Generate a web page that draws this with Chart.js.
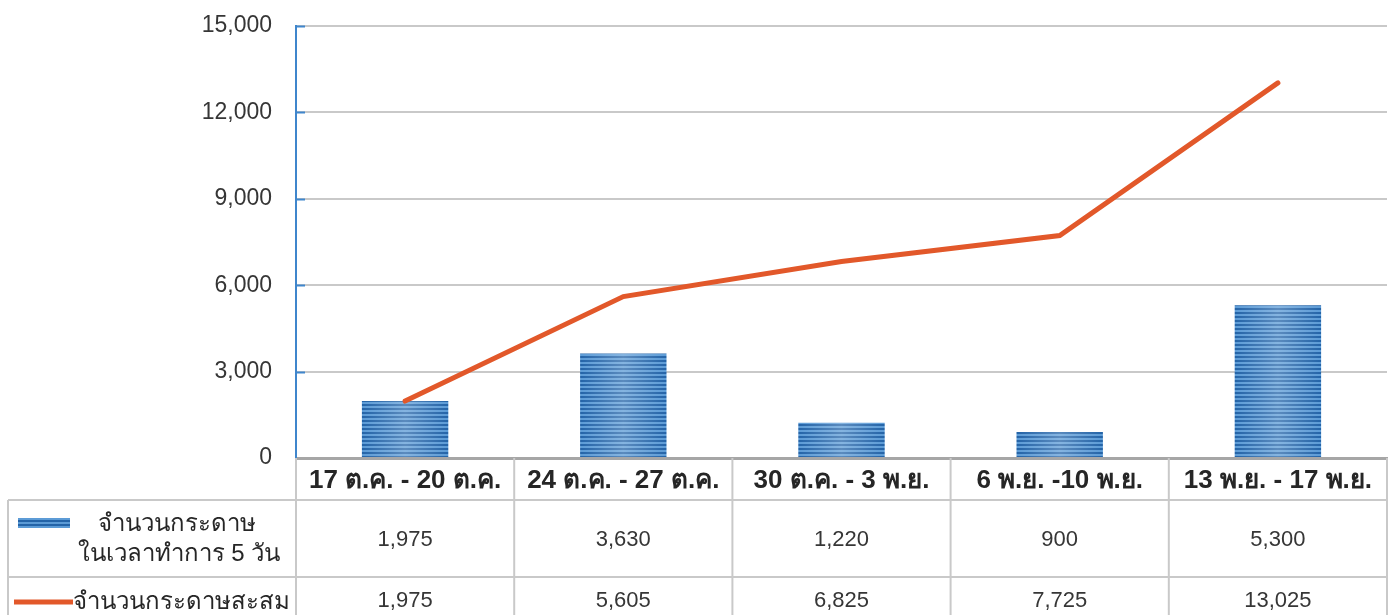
<!DOCTYPE html>
<html>
<head>
<meta charset="utf-8">
<script src="https://cdn.jsdelivr.net/npm/chart.js@4/dist/chart.umd.min.js"></script>
<style>
  html, body { margin: 0; padding: 0; background: #ffffff; }
  #wrap { width: 1393px; height: 615px; }
</style>
</head>
<body>
<div id="wrap"><canvas id="chart" width="1393" height="615"></canvas></div>
<script>
// Weekly paper counts and the running total
const categories = ['17 ต.ค. - 20 ต.ค.', '24 ต.ค. - 27 ต.ค.', '30 ต.ค. - 3 พ.ย.', '6 พ.ย. -10 พ.ย.', '13 พ.ย. - 17 พ.ย.'];
const weeklyPaper = [1975, 3630, 1220, 900, 5300];
const cumulativePaper = [1975, 5605, 6825, 7725, 13025];
const yTickValues = [0, 3000, 6000, 9000, 12000, 15000];
const weeklyLabel = ['จำนวนกระดาษ', 'ในเวลาทำการ 5 วัน'];
const cumulativeLabel = 'จำนวนกระดาษสะสม';

const FONT = "'Liberation Sans', 'Noto Sans', sans-serif";
const BLUE_DARK = '#2464a8';
const BLUE_LIGHT = '#5c9bd6';
const ORANGE = '#e2582a';
const GRID = '#c9c9c9';
const TEXT = '#363636';

const fmt = v => v.toLocaleString('en-US');

// striped fill for the bars
function stripePattern() {
  const c = document.createElement('canvas');
  c.width = 4; c.height = 4;
  const g = c.getContext('2d');
  g.fillStyle = BLUE_DARK; g.fillRect(0, 0, 4, 4);
  g.fillStyle = BLUE_LIGHT; g.fillRect(0, 2, 4, 2);
  return g.createPattern(c, 'repeat');
}
const ctx0 = document.getElementById('chart').getContext('2d');
const barFill = stripePattern();

// soft highlight down the middle of each bar
const barSheen = {
  id: 'barSheen',
  afterDatasetDraw(chart, args) {
    if (chart.data.datasets[args.index].type !== 'bar') return;
    const ctx = chart.ctx;
    args.meta.data.forEach(el => {
      const p = el.getProps(['x', 'y', 'base', 'width'], true);
      const l = p.x - p.width / 2, r = p.x + p.width / 2;
      const g = ctx.createLinearGradient(l, 0, r, 0);
      g.addColorStop(0, 'rgba(255,255,255,0)');
      g.addColorStop(0.5, 'rgba(255,255,255,0.25)');
      g.addColorStop(1, 'rgba(255,255,255,0)');
      ctx.save();
      ctx.fillStyle = g;
      ctx.fillRect(l, p.y, p.width, p.base - p.y);
      ctx.restore();
    });
  }
};

// short blue tick marks along the value axis
const axisTicks = {
  id: 'axisTicks',
  afterDraw(chart) {
    const { ctx, chartArea: ca, scales: { y } } = chart;
    ctx.save();
    ctx.strokeStyle = '#3f86cc';
    ctx.lineWidth = 2;
    y.ticks.forEach(t => {
      if (t.value === 0) return;
      const py = Math.round(y.getPixelForValue(t.value)) + 0.5;
      ctx.beginPath(); ctx.moveTo(ca.left, py); ctx.lineTo(ca.left + 9, py); ctx.stroke();
    });
    ctx.restore();
  }
};

// data table under the plot: grid, legend keys and values
const dataTable = {
  id: 'dataTable',
  afterDraw(chart) {
    const { ctx, chartArea: ca, scales: { x } } = chart;
    const n = categories.length;
    const colW = (x.getPixelForValue(1) - x.getPixelForValue(0));
    const edges = [];
    for (let i = 0; i <= n; i++) edges.push(x.getPixelForValue(0) - colW / 2 + i * colW);
    const bottom = chart.height + 5;
    const headTop = ca.bottom;
    const row1Top = ca.bottom + 42;
    const row2Top = ca.bottom + 119;
    const tableLeft = 8;

    ctx.save();
    ctx.strokeStyle = GRID;
    ctx.lineWidth = 2;
    edges.forEach(ex => {
      ctx.beginPath(); ctx.moveTo(ex, headTop); ctx.lineTo(ex, bottom); ctx.stroke();
    });
    [row1Top, row2Top].forEach(ry => {
      ctx.beginPath(); ctx.moveTo(tableLeft, ry); ctx.lineTo(edges[n], ry); ctx.stroke();
    });
    ctx.beginPath(); ctx.moveTo(tableLeft, row1Top); ctx.lineTo(tableLeft, bottom); ctx.stroke();

    // values
    ctx.fillStyle = TEXT;
    ctx.font = '22px ' + FONT;
    ctx.textAlign = 'center';
    ctx.textBaseline = 'middle';
    for (let i = 0; i < n; i++) {
      const cx = x.getPixelForValue(i);
      ctx.fillText(fmt(weeklyPaper[i]), cx, row1Top + 40);
      ctx.fillText(fmt(cumulativePaper[i]), cx, row2Top + 24);
    }

    // legend keys
    ctx.fillStyle = barFill;
    ctx.fillRect(18, row1Top + 18, 52, 10);
    ctx.strokeStyle = ORANGE;
    ctx.lineWidth = 5;
    ctx.beginPath(); ctx.moveTo(14, row2Top + 25); ctx.lineTo(73, row2Top + 25); ctx.stroke();

    ctx.fillStyle = '#262626';
    ctx.font = '24px ' + FONT;
    ctx.textAlign = 'center';
    ctx.fillText(weeklyLabel[0], 177, row1Top + 24);
    ctx.fillText(weeklyLabel[1], 179, row1Top + 54);
    ctx.textAlign = 'left';
    ctx.fillText(cumulativeLabel, 73, row2Top + 25);
    ctx.restore();
  }
};

new Chart(ctx0, {
  data: {
    labels: categories,
    datasets: [
      {
        type: 'line',
        label: cumulativeLabel,
        data: cumulativePaper,
        borderColor: ORANGE,
        borderWidth: 5,
        pointRadius: 0,
        tension: 0,
        borderCapStyle: 'round',
        order: 0
      },
      {
        type: 'bar',
        label: weeklyLabel.join(' '),
        data: weeklyPaper,
        backgroundColor: barFill,
        borderWidth: 0,
        barPercentage: 0.8,
        categoryPercentage: 0.495,
        order: 1
      }
    ]
  },
  options: {
    responsive: false,
    animation: false,
    layout: { padding: { top: 26, right: 6, bottom: 0, left: 0 } },
    plugins: { legend: { display: false }, tooltip: { enabled: false } },
    scales: {
      x: {
        offset: true,
        afterFit: s => { s.height = 157; s.paddingLeft = 0; s.paddingRight = 0; },
        grid: { display: false, drawTicks: false },
        border: { color: '#a6a6a6', width: 3 },
        ticks: {
          color: '#262626',
          font: { family: FONT, size: 26, weight: 'bold' },
          padding: 7,
          maxRotation: 0,
          autoSkip: false
        }
      },
      y: {
        min: 0,
        max: 15000,
        afterFit: s => { s.width = 296; s.paddingTop = 0; s.paddingBottom = 0; },
        afterBuildTicks: s => { s.ticks = yTickValues.map(v => ({ value: v })); },
        grid: { color: GRID, lineWidth: 2, drawTicks: false },
        border: { color: '#3f86cc', width: 2 },
        ticks: {
          color: TEXT,
          font: { family: FONT, size: 23 },
          padding: 24,
          callback: v => fmt(v)
        }
      }
    }
  },
  plugins: [barSheen, axisTicks, dataTable]
});
</script>
</body>
</html>
